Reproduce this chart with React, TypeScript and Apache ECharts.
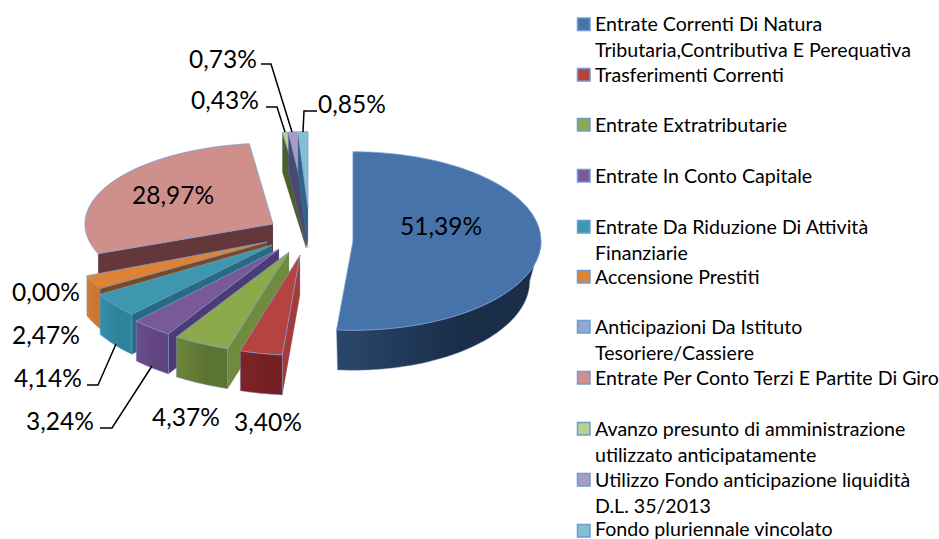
import React, { useEffect, useRef } from "react";
import * as echarts from "echarts";

const categories = [
  "Entrate Correnti Di Natura\nTributaria,Contributiva E Perequativa",
  "Trasferimenti Correnti",
  "Entrate Extratributarie",
  "Entrate In Conto Capitale",
  "Entrate Da Riduzione Di Attività\nFinanziarie",
  "Accensione Prestiti",
  "Anticipazioni Da Istituto\nTesoriere/Cassiere",
  "Entrate Per Conto Terzi E Partite Di Giro",
  "Avanzo presunto di amministrazione\nutilizzato anticipatamente",
  "Utilizzo Fondo anticipazione liquidità\nD.L. 35/2013",
  "Fondo pluriennale vincolato",
];
const values = [51.39, 3.4, 4.37, 3.24, 4.14, 2.47, 0.0, 28.97, 0.43, 0.73, 0.85];

// top face, curved wall (left and right ends), radial wall
const topColors = ["#4673A9", "#B5433F", "#8CA94B", "#78599A", "#3C97AF", "#DD8335", "#92A9CF", "#CF908C", "#BAD08F", "#A99CC4", "#86BFD3"];
const arcLeftColors = ["#2A476C", "#7E2327", "#6D8539", "#6C4D8C", "#3390AA", "#D27C31", "#5A6F94", "#65383A", "#55652F", "#5A5078", "#2F6C88"];
const arcRightColors = ["#1A2E49", "#762024", "#5C7432", "#614580", "#2D839C", "#CA772F", "#5A6F94", "#65383A", "#55652F", "#5A5078", "#2F6C88"];
const sideColors = ["#1C3350", "#A53B39", "#6F8C3D", "#4E3A75", "#256C80", "#7A4A20", "#5A6F94", "#64383A", "#4F5F2C", "#4A4A70", "#2F6488"];

// Exploded, perspective layout of each slice: apex, ellipse scales, lower-rim scale
const RX = 188;
const RY = 92;
const DEPTH = 40;
const layout = [
  { ax: 353, ay: 241, sx: 1.0, sy: 0.97, bx: 0.94, arc: true },
  { ax: 300, ay: 255, sx: 1.07, sy: 1.09, bx: 1, arc: true },
  { ax: 289, ay: 252, sx: 1.1, sy: 1.1, bx: 1, arc: true },
  { ax: 279, ay: 249, sx: 1.08, sy: 1.1, bx: 1, arc: true },
  { ax: 272, ay: 245, sx: 1.06, sy: 1.06, bx: 1, arc: true },
  { ax: 267, ay: 242, sx: 1.03, sy: 1.0, bx: 1, arc: true },
  { ax: 265, ay: 240, sx: 1.03, sy: 1.0, bx: 1, arc: false },
  { ax: 273, ay: 224, sx: 1.0, sy: 0.88, bx: 1, arc: false },
  { ax: 306, ay: 208, sx: 1, sy: 0.83, bx: 1, arc: false },
  { ax: 307, ay: 208, sx: 1, sy: 0.83, bx: 1, arc: false },
  { ax: 308, ay: 208, sx: 1, sy: 0.83, bx: 1, arc: false },
];
const drawOrder = [8, 9, 10, 7, 6, 5, 4, 3, 2, 1, 0];

const labelPos = [
  [441, 225], [268, 421], [186, 416], [60, 420], [48, 377], [46, 334],
  [46, 291], [173, 194], [225, 99], [223, 58], [352, 103],
];
const leaders: Record<number, number[][]> = {
  3: [[100, 428], [112, 428], [152, 366]],
  4: [[87, 385], [98, 385], [116, 344]],
  8: [[266, 107], [277, 107], [285, 132]],
  9: [[261, 64], [271, 64], [292, 132]],
  10: [[317, 111], [304, 111], [303, 132]],
};
const legendRowCenter = [23.5, 74, 124, 175, 226, 276, 326, 377, 428, 479, 528];
const legendLineGap = 26;
const swatchOffset = [0, 0, 0, 0, 0, 0, 0, 0, 0, 0, 2];

const total = values.reduce((a, b) => a + b, 0);
const starts: number[] = [];
values.reduce((acc, v, i) => {
  starts[i] = acc;
  return acc + v;
}, 0);
const toRad = (v: number) => (v / total) * Math.PI * 2;

function renderSlice(params: any, api: any) {
  const i = api.value(0) as number;
  const v = api.value(1) as number;
  if (!(v > 0)) return { type: "group", children: [] };
  const L = layout[i];
  const t0 = toRad(starts[i]);
  const t1 = toRad(starts[i] + v);
  const n = Math.max(2, Math.ceil((t1 - t0) / 0.03));
  const pt = (t: number, bottom: boolean) => [
    L.ax + RX * L.sx * (bottom ? L.bx : 1) * Math.sin(t),
    L.ay + (bottom ? DEPTH : 0) - RY * L.sy * Math.cos(t),
  ];
  const apex = [L.ax, L.ay];
  const apexB = [L.ax, L.ay + DEPTH];
  const topArc: number[][] = [];
  for (let k = 0; k <= n; k++) topArc.push(pt(t0 + ((t1 - t0) * k) / n, false));
  const children: any[] = [];
  // radial wall at the slice's first edge
  children.push({
    type: "polygon",
    shape: { points: [apex, pt(t0, false), pt(t0, true), apexB] },
    style: { fill: sideColors[i], stroke: "rgba(120,150,200,0.35)", lineWidth: 0.6 },
  });
  // curved outer wall: only its front-facing part
  if (L.arc) {
    const a0 = Math.max(t0, Math.PI / 2);
    const a1 = Math.min(t1, Math.PI * 1.5);
    if (a1 > a0) {
      const up: number[][] = [];
      const down: number[][] = [];
      const m = Math.max(2, Math.ceil((a1 - a0) / 0.03));
      for (let k = 0; k <= m; k++) {
        const t = a0 + ((a1 - a0) * k) / m;
        up.push(pt(t, false));
        down.unshift(pt(t, true));
      }
      children.push({
        type: "polygon",
        shape: { points: up.concat(down) },
        style: {
          fill: new echarts.graphic.LinearGradient(0, 0, 1, 0, [
            { offset: 0, color: arcLeftColors[i] },
            { offset: 0.6, color: arcRightColors[i] },
            { offset: 1, color: arcRightColors[i] },
          ]),
          stroke: "rgba(120,150,200,0.6)",
          lineWidth: 0.8,
        },
      });
    }
  }
  // top face
  children.push({
    type: "polygon",
    shape: { points: [apex].concat(topArc) },
    style: { fill: topColors[i], stroke: "rgba(125,155,210,0.75)", lineWidth: 1 },
  });
  return { type: "group", children };
}

const fmt = (v: number) => v.toFixed(2).replace(".", ",") + "%";

function buildGraphic() {
  const els: any[] = [];
  Object.keys(leaders).forEach((k) => {
    els.push({
      type: "polyline",
      z: 20,
      shape: { points: leaders[+k] },
      style: { fill: "none", stroke: "#000", lineWidth: 1.5 },
    });
  });
  values.forEach((v, i) => {
    els.push({
      type: "text",
      z: 21,
      x: labelPos[i][0],
      y: labelPos[i][1],
      style: {
        text: fmt(v),
        font: "24.5px Lato",
        fill: "#000",
        align: "center",
        verticalAlign: "middle",
      },
    });
  });
  categories.forEach((c, i) => {
    const y = legendRowCenter[i];
    els.push({
      type: "rect",
      z: 20,
      shape: { x: 577.5, y: y + swatchOffset[i] - 5.5, width: 12.5, height: 12.5 },
      style: { fill: topColors[i], stroke: "#6F9BCF", lineWidth: 1.5 },
    });
    c.split("\n").forEach((line, j) => {
      els.push({
        type: "text",
        z: 21,
        x: 595,
        y: y + j * legendLineGap,
        style: {
          text: line,
          font: "19.6px Lato",
          fill: "#000",
          align: "left",
          verticalAlign: "middle",
        },
      });
    });
  });
  return els;
}

export default function App() {
  const ref = useRef<HTMLDivElement>(null);
  useEffect(() => {
    const chart = echarts.init(ref.current!, null, { renderer: "svg" });
    chart.setOption({
      animation: false,
      backgroundColor: "#fff",
      series: [
        {
          type: "custom",
          coordinateSystem: "none",
          silent: true,
          data: drawOrder.map((i) => [i, values[i]]),
          renderItem: renderSlice,
        },
      ],
      graphic: { elements: buildGraphic() },
    });
    return () => chart.dispose();
  }, []);
  return (
    <div
      ref={ref}
      style={{ position: "fixed", left: 0, top: 0, width: 939, height: 539 }}
    />
  );
}
